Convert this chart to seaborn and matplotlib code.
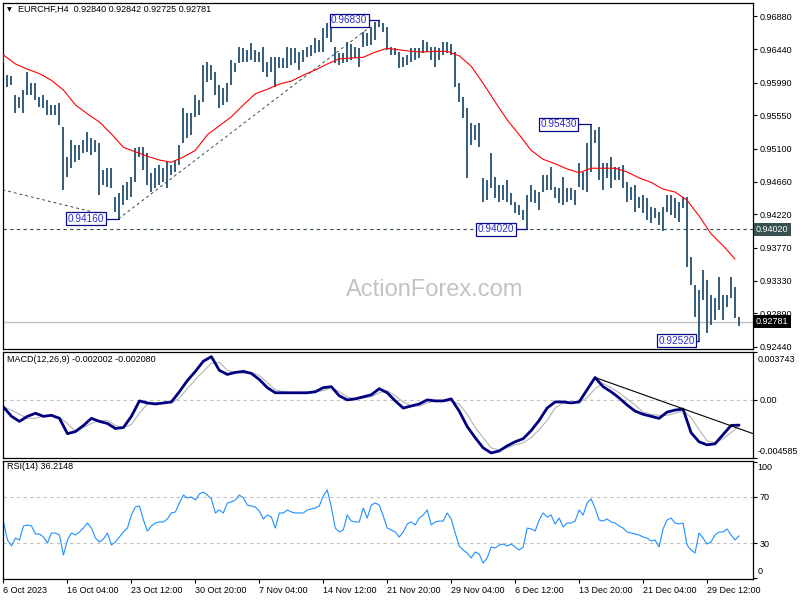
"""EURCHF H4 bar chart with MACD and RSI panels (MT4 style)."""
import matplotlib
matplotlib.use("Agg")
import matplotlib.pyplot as plt
import matplotlib.transforms as mtransforms
import numpy as np
import seaborn as sns

# ---- price bars (one entry per bar, H4) ----
highs = [
    0.9636, 0.9609, 0.9608, 0.9582, 0.9580, 0.9589, 0.9613, 0.9598, 0.9598, 0.9580,
    0.9582, 0.9576, 0.9569, 0.9569, 0.9572, 0.9539, 0.9499, 0.9522, 0.9515, 0.9515,
    0.9522, 0.9533, 0.9525, 0.9522, 0.9518, 0.9482, 0.9484, 0.9484, 0.9445, 0.9451,
    0.9461, 0.9465, 0.9472, 0.9511, 0.9512, 0.9512, 0.9504, 0.9478, 0.9484, 0.9488,
    0.9484, 0.9492, 0.9488, 0.9495, 0.9515, 0.9565, 0.9558, 0.9558, 0.9582, 0.9576,
    0.9623, 0.9627, 0.9623, 0.9613, 0.9596, 0.9592, 0.9598, 0.9629, 0.9625, 0.9647,
    0.9645, 0.9643, 0.9652, 0.9643, 0.9640, 0.9647, 0.9627, 0.9633, 0.9633, 0.9633,
    0.9632, 0.9647, 0.9645, 0.9645, 0.9640, 0.9643, 0.9647, 0.9649, 0.9659, 0.9656,
    0.9672, 0.9679, 0.9676, 0.9647, 0.9639, 0.9639, 0.9653, 0.9651, 0.9647, 0.9645,
    0.9667, 0.9666, 0.9674, 0.9680, 0.9683, 0.9679, 0.9674, 0.9647, 0.9645, 0.9640,
    0.9633, 0.9636, 0.9645, 0.9645, 0.9645, 0.9656, 0.9653, 0.9647, 0.9647, 0.9645,
    0.9653, 0.9653, 0.9651, 0.9640, 0.9598, 0.9580, 0.9565, 0.9545, 0.9542, 0.9545,
    0.9471, 0.9468, 0.9504, 0.9472, 0.9461, 0.9461, 0.9468, 0.9451, 0.9439, 0.9435,
    0.9428, 0.9448, 0.9461, 0.9455, 0.9452, 0.9475, 0.9475, 0.9486, 0.9459, 0.9457,
    0.9472, 0.9457, 0.9457, 0.9455, 0.9491, 0.9479, 0.9518, 0.9543, 0.9535, 0.9539,
    0.9491, 0.9491, 0.9499, 0.9486, 0.9486, 0.9488, 0.9465, 0.9459, 0.9461, 0.9445,
    0.9448, 0.9444, 0.9432, 0.9431, 0.9425, 0.9432, 0.9448, 0.9448, 0.9444, 0.9439,
    0.9445, 0.9445, 0.9365, 0.9327, 0.9320, 0.9347, 0.9334, 0.9314, 0.9310, 0.9338,
    0.9314, 0.9314, 0.9338, 0.9324, 0.9284,
]
lows = [
    0.9625, 0.9593, 0.9596, 0.9558, 0.9565, 0.9558, 0.9582, 0.9582, 0.9576, 0.9566,
    0.9565, 0.9555, 0.9555, 0.9555, 0.9542, 0.9455, 0.9472, 0.9484, 0.9492, 0.9495,
    0.9504, 0.9506, 0.9502, 0.9506, 0.9448, 0.9461, 0.9459, 0.9457, 0.9425, 0.9416,
    0.9435, 0.9441, 0.9445, 0.9465, 0.9499, 0.9482, 0.9461, 0.9452, 0.9457, 0.9461,
    0.9465, 0.9457, 0.9475, 0.9479, 0.9488, 0.9518, 0.9525, 0.9529, 0.9553, 0.9555,
    0.9573, 0.9600, 0.9602, 0.9582, 0.9565, 0.9569, 0.9573, 0.9596, 0.9613, 0.9625,
    0.9627, 0.9627, 0.9629, 0.9627, 0.9627, 0.9613, 0.9606, 0.9613, 0.9593, 0.9619,
    0.9619, 0.9619, 0.9623, 0.9625, 0.9616, 0.9627, 0.9633, 0.9635, 0.9639, 0.9640,
    0.9640, 0.9659, 0.9653, 0.9625, 0.9623, 0.9625, 0.9627, 0.9629, 0.9632, 0.9620,
    0.9647, 0.9648, 0.9649, 0.9656, 0.9674, 0.9667, 0.9643, 0.9636, 0.9636, 0.9619,
    0.9620, 0.9623, 0.9627, 0.9629, 0.9632, 0.9639, 0.9640, 0.9629, 0.9620, 0.9629,
    0.9636, 0.9639, 0.9636, 0.9593, 0.9573, 0.9551, 0.9471, 0.9515, 0.9522, 0.9512,
    0.9439, 0.9441, 0.9457, 0.9444, 0.9439, 0.9441, 0.9439, 0.9435, 0.9424, 0.9421,
    0.9414, 0.9402, 0.9439, 0.9437, 0.9428, 0.9452, 0.9455, 0.9455, 0.9444, 0.9437,
    0.9435, 0.9439, 0.9441, 0.9435, 0.9459, 0.9455, 0.9452, 0.9479, 0.9518, 0.9468,
    0.9455, 0.9471, 0.9457, 0.9468, 0.9468, 0.9457, 0.9439, 0.9441, 0.9425, 0.9431,
    0.9424, 0.9414, 0.9410, 0.9417, 0.9408, 0.9400, 0.9425, 0.9421, 0.9417, 0.9412,
    0.9431, 0.9351, 0.9327, 0.9284, 0.9252, 0.9307, 0.9263, 0.9273, 0.9280, 0.9294,
    0.9280, 0.9298, 0.9310, 0.9283, 0.9272,
]

# moving average (red), one value every 3 bars
ma55 = [
    0.9636, 0.9624, 0.9617, 0.9611, 0.9602, 0.9589, 0.9569, 0.9557, 0.9546, 0.9530,
    0.9512, 0.9506, 0.9500, 0.9495, 0.9492, 0.9499, 0.9508, 0.9529, 0.9541, 0.9553,
    0.9569, 0.9584, 0.9590, 0.9597, 0.9601, 0.9609, 0.9616, 0.9624, 0.9631, 0.9632,
    0.9633, 0.9640, 0.9645, 0.9643, 0.9641, 0.9640, 0.9641, 0.9641, 0.9635, 0.9621,
    0.9598, 0.9573, 0.9549, 0.9529, 0.9508, 0.9496, 0.9490, 0.9483, 0.9478, 0.9484,
    0.9484, 0.9484, 0.9479, 0.9471, 0.9465, 0.9456, 0.9452, 0.9441, 0.9420, 0.9396,
    0.9380, 0.9362,
]

# MACD(12,26,9), one value every 2 bars
macd = [
    -0.00058, -0.00131, -0.00171, -0.00131, -0.00107, -0.00131, -0.00123, -0.00147, -0.00267, -0.00251,
    -0.00203, -0.00147, -0.00171, -0.00187, -0.00227, -0.00219, -0.00131, -0.00010, -0.00026, -0.00034,
    -0.00026, -0.00018, 0.00062, 0.00150, 0.00222, 0.00302, 0.00338, 0.00230, 0.00198, 0.00214,
    0.00222, 0.00206, 0.00158, 0.00094, 0.00054, 0.00054, 0.00054, 0.00054, 0.00054, 0.00062,
    0.00094, 0.00102, 0.00030, -0.00002, 0.00006, 0.00022, 0.00038, 0.00086, 0.00054, -0.00010,
    -0.00066, -0.00050, -0.00034, -0.00002, -0.00010, -0.00010, 0.00006, -0.00090, -0.00211, -0.00299,
    -0.00379, -0.00419, -0.00403, -0.00363, -0.00331, -0.00307, -0.00243, -0.00163, -0.00066, -0.00018,
    -0.00018, -0.00026, -0.00018, 0.00078, 0.00174, 0.00102, 0.00062, 0.00014, -0.00042, -0.00090,
    -0.00115, -0.00131, -0.00147, -0.00098, -0.00082, -0.00074, -0.00259, -0.00331, -0.00355, -0.00347,
    -0.00275, -0.00203, -0.00200,
]
signal = [
    -0.00058, -0.00082, -0.00115, -0.00147, -0.00147, -0.00131, -0.00123, -0.00139, -0.00187, -0.00251,
    -0.00219, -0.00187, -0.00163, -0.00163, -0.00203, -0.00219, -0.00195, -0.00107, -0.00034, -0.00026,
    -0.00026, -0.00026, 0.00014, 0.00086, 0.00158, 0.00222, 0.00286, 0.00294, 0.00230, 0.00214,
    0.00206, 0.00214, 0.00190, 0.00134, 0.00078, 0.00062, 0.00054, 0.00054, 0.00054, 0.00062,
    0.00070, 0.00094, 0.00062, 0.00022, 0.00006, 0.00014, 0.00022, 0.00054, 0.00070, 0.00030,
    -0.00018, -0.00050, -0.00050, -0.00026, -0.00010, -0.00010, -0.00010, -0.00034, -0.00115, -0.00219,
    -0.00299, -0.00379, -0.00395, -0.00379, -0.00355, -0.00339, -0.00299, -0.00235, -0.00163, -0.00066,
    -0.00026, -0.00026, -0.00018, 0.00014, 0.00086, 0.00126, 0.00094, 0.00054, 0.00006, -0.00042,
    -0.00098, -0.00115, -0.00123, -0.00123, -0.00107, -0.00090, -0.00139, -0.00235, -0.00323, -0.00339,
    -0.00307, -0.00259, -0.00208,
]

# RSI(14), one value per bar
rsi = [
    48.3, 32.6, 27.4, 34.3, 32.6, 44.8, 45.7, 44.8, 37.8, 37.8,
    35.2, 30.0, 38.7, 38.7, 37.0, 19.6, 32.6, 38.7, 37.0, 39.6,
    43.0, 47.4, 43.0, 34.3, 30.9, 33.5, 38.7, 28.3, 30.9, 35.2,
    39.6, 43.0, 54.3, 61.3, 62.2, 50.0, 40.4, 44.8, 47.4, 48.3,
    48.3, 50.9, 56.1, 57.0, 64.8, 71.7, 69.1, 70.0, 67.4, 72.6,
    74.3, 71.7, 68.3, 56.1, 58.7, 56.1, 64.8, 65.7, 67.4, 71.7,
    69.1, 63.0, 62.2, 61.3, 57.8, 50.9, 54.3, 52.6, 43.0, 56.1,
    56.1, 58.7, 57.0, 56.1, 56.1, 56.1, 58.7, 59.6, 60.4, 62.2,
    70.9, 76.1, 61.3, 43.0, 39.6, 41.3, 54.3, 49.1, 48.3, 48.3,
    60.4, 51.7, 63.0, 64.8, 63.0, 53.5, 43.0, 41.3, 39.6, 35.2,
    39.6, 46.5, 48.3, 45.7, 51.7, 54.3, 58.7, 45.7, 48.3, 49.1,
    49.1, 56.1, 50.9, 38.7, 27.4, 23.9, 21.3, 17.0, 22.2, 20.4,
    12.6, 17.0, 26.5, 25.7, 28.3, 29.1, 27.4, 29.1, 26.5, 23.9,
    26.5, 43.0, 42.2, 40.4, 50.0, 56.1, 52.6, 54.3, 46.5, 51.7,
    43.9, 47.4, 47.4, 49.1, 58.7, 54.3, 64.8, 68.3, 60.4, 50.0,
    49.1, 50.9, 48.3, 47.4, 44.8, 43.0, 39.6, 38.7, 37.8, 37.0,
    35.2, 34.3, 31.7, 32.6, 26.5, 42.2, 50.0, 51.7, 47.4, 46.5,
    47.4, 28.3, 23.9, 21.3, 38.7, 34.3, 29.1, 30.9, 37.0, 39.6,
    39.6, 42.2, 37.0, 32.6, 36.2,
]

# swing labels
swing_labels = ["0.94160", "0.96830", "0.94020", "0.95430", "0.92520"]
swing_prices = [0.9416, 0.9683, 0.9402, 0.9543, 0.9252]
swing_bars = [29, 94, 131, 147, 174]

# drawn lines
support = 0.9402
last_close = 0.92781
trend_bars = [[-0.25, 21.75], [28.75, 91.75]]
trend_prices = [[0.9455, 0.9426], [0.9416, 0.9674]]
macd_trend_bars = [148, 187.5]
macd_trend_vals = [0.00174, -0.00267]

price_ticks = [0.96880, 0.96440, 0.95990, 0.95550, 0.95100, 0.94660,
               0.94220, 0.93770, 0.93330, 0.92890, 0.92440]
macd_range = [-0.004585, 0.003743]
time_ticks = [0, 16, 32, 48, 64, 80, 96, 112, 128, 144, 160, 176]
time_labels = ["6 Oct 2023", "16 Oct 04:00", "23 Oct 12:00", "30 Oct 20:00",
               "7 Nov 04:00", "14 Nov 12:00", "21 Nov 20:00", "29 Nov 04:00",
               "6 Dec 12:00", "13 Dec 20:00", "21 Dec 04:00", "29 Dec 12:00"]

# ---- styling ----
sns.set_style("white")
plt.rcParams["font.family"] = ["Liberation Sans", "DejaVu Sans"]
plt.rcParams.update({"text.color": "black", "xtick.color": "black",
                     "ytick.color": "black", "axes.edgecolor": "black",
                     "axes.linewidth": 0.9})

BAR = "#1b4a6b"
LINK = "#0b0b8a"
SLATE = "#2f4f4f"
FS = 6.5

n = len(highs)
x_bars = np.arange(n)
x_ma = np.arange(0, n, 3)[: len(ma55)]
x_macd = np.arange(len(macd)) * 2
x_rsi = np.arange(len(rsi))


def panel(top, bottom):
    return [2.5 / 800, 1 - bottom / 600, 750.5 / 800, (bottom - top) / 600]


def right_axis(a):
    a.tick_params(axis="y", right=True, left=False, labelright=True, labelleft=False,
                  labelsize=FS, length=3, width=0.8, pad=1.5, direction="out")


def edge_label(a, yfrac, text, va):
    # labels at the panel edges sit inside the panel height, as in MT4
    a.text(1.0 + 4.5 / 750.5, yfrac, text, transform=a.transAxes, fontsize=FS,
           ha="left", va=va)


fig = plt.figure(figsize=(8, 6), dpi=100)
ax = fig.add_axes(panel(3, 349))
ax_macd = fig.add_axes(panel(352, 458), sharex=ax)
ax_rsi = fig.add_axes(panel(461, 579), sharex=ax)

# ---- main price panel ----
ax.text(0.576, 0.17, "ActionForex.com", transform=ax.transAxes, fontsize=17,
        color="#c3c3c3", ha="center", va="center", zorder=0)
ax.vlines(x_bars, lows, highs, color=BAR, lw=1.25, zorder=3)
sns.lineplot(x=x_ma, y=ma55, ax=ax, color="red", linewidth=0.8,
             estimator=None, sort=False, zorder=3)
ax.axhline(support, color=SLATE, lw=0.8, ls=(0, (3, 3)), zorder=2)
ax.axhline(last_close, color="#c0c0c0", lw=1.0, zorder=1)
for bx, py in zip(trend_bars, trend_prices):
    ax.plot(bx, py, color=SLATE, lw=0.7, ls=(0, (3, 3)), zorder=2)

box_shift = [8.3, 7.5, 7.8, 8.1, 5.6]
for lab, price, b, off in zip(swing_labels, swing_prices, swing_bars, box_shift):
    ax.plot([b - off, b], [price, price], color=LINK, lw=0.9, zorder=4)
    ax.text(b - off, price, lab, ha="center", va="center", fontsize=7.2,
            color="#2b2bd0", zorder=5,
            bbox=dict(boxstyle="square,pad=0.15", fc="white", ec=LINK, lw=0.9))

ax.text(0.006, 0.981, "\u25bc", transform=ax.transAxes, fontsize=4.5,
        ha="left", va="center", family=["DejaVu Sans"])
ax.text(0.021, 0.981, "EURCHF,H4  0.92840 0.92842 0.92725 0.92781",
        transform=ax.transAxes, fontsize=FS, ha="left", va="center")

ax.set_xlim(-0.25, 187.5)
ax.set_ylim(0.92412, 0.97059)
ax.set_yticks(price_ticks)
ax.set_yticklabels([f"{v:.5f}" for v in price_ticks])
right_axis(ax)
ax.tick_params(axis="x", bottom=False, labelbottom=False)

tag = mtransforms.blended_transform_factory(ax.transAxes, ax.transData)
ax.text(1.004, support, f"{support:.5f}", transform=tag, fontsize=FS, color="white",
        ha="left", va="center", zorder=6,
        bbox=dict(boxstyle="square,pad=0.25", fc="#36524f", ec="none"))
ax.text(1.004, last_close, f"{last_close:.5f}", transform=tag, fontsize=FS,
        color="white", ha="left", va="center", zorder=6,
        bbox=dict(boxstyle="square,pad=0.25", fc="black", ec="none"))

# ---- MACD panel ----
ax_macd.axhline(0, color="#c0c0c0", lw=0.8, ls=(0, (3, 3)))
sns.lineplot(x=x_macd, y=signal, ax=ax_macd, color="#b4b4b4", linewidth=0.8,
             estimator=None, sort=False)
sns.lineplot(x=x_macd, y=macd, ax=ax_macd, color="#000080", linewidth=2.0,
             estimator=None, sort=False)
ax_macd.plot(macd_trend_bars, macd_trend_vals, color="black", lw=0.8)
ax_macd.set_ylim(*macd_range)
ax_macd.set_yticks([macd_range[0], 0, macd_range[1]])
ax_macd.set_yticklabels(["", "0.00", ""])
right_axis(ax_macd)
edge_label(ax_macd, 1 - 3 / 106, f"{macd_range[1]:.6f}", "top")
edge_label(ax_macd, 2.5 / 106, f"{macd_range[0]:.6f}", "bottom")
ax_macd.tick_params(axis="x", bottom=False, labelbottom=False)
ax_macd.text(0.006, 0.93, "MACD(12,26,9) -0.002002 -0.002080",
             transform=ax_macd.transAxes, fontsize=FS, ha="left", va="center")

# ---- RSI panel ----
for lvl in (30, 70):
    ax_rsi.axhline(lvl, color="#c0c0c0", lw=0.8, ls=(0, (3, 3)))
sns.lineplot(x=x_rsi, y=rsi, ax=ax_rsi, color="#1e90ff", linewidth=0.8,
             estimator=None, sort=False)
ax_rsi.set_ylim(-1.3, 101.3)
ax_rsi.set_yticks([0, 30, 70, 100])
ax_rsi.set_yticklabels(["", "30", "70", ""])
right_axis(ax_rsi)
edge_label(ax_rsi, 1 - 2.5 / 118, "100", "top")
edge_label(ax_rsi, 3.0 / 118, "0", "bottom")
ax_rsi.set_xticks(time_ticks)
ax_rsi.set_xticklabels(time_labels)
for lab in ax_rsi.get_xticklabels():
    lab.set_ha("left")
ax_rsi.tick_params(axis="x", bottom=True, labelbottom=True, labelsize=FS,
                   length=3, width=0.8, pad=2, direction="out")
ax_rsi.text(0.006, 0.955, "RSI(14) 36.2148", transform=ax_rsi.transAxes,
            fontsize=FS, ha="left", va="center")

for a in (ax, ax_macd, ax_rsi):
    a.set_xlabel("")
    a.set_ylabel("")
    for s in a.spines.values():
        s.set_visible(True)
        s.set_color("black")

fig.savefig("out.png", dpi=100)
